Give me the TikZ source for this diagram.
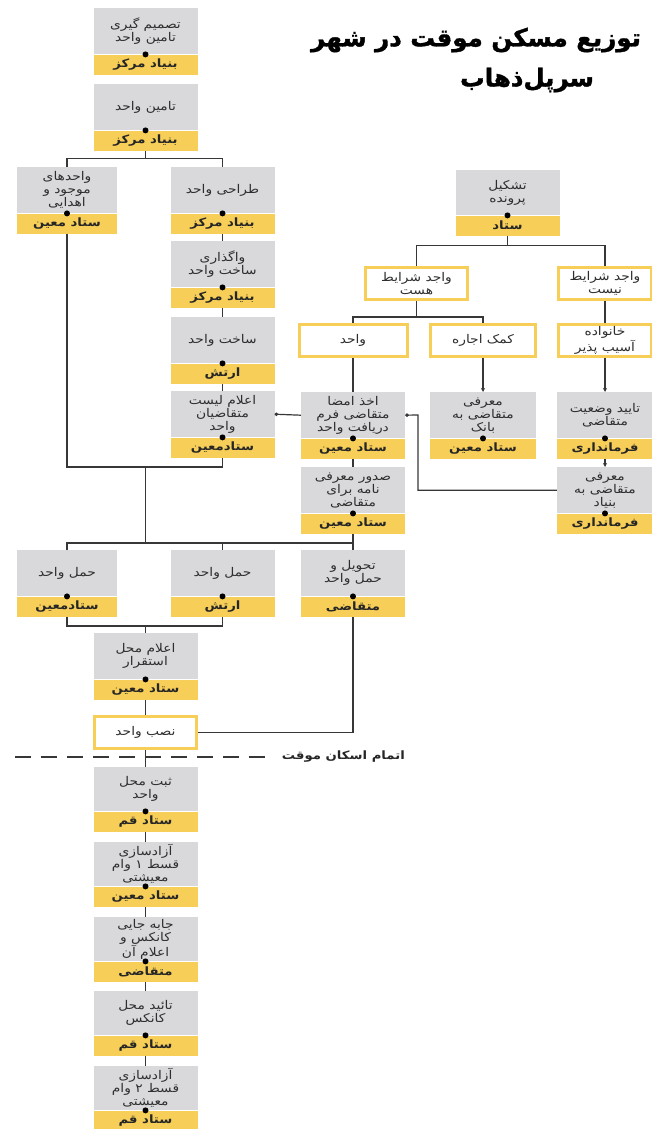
\documentclass[tikz,border=0pt]{standalone}
\usepackage{fontspec}
\usepackage{tikz}
\usetikzlibrary{positioning,arrows.meta}
\TeXXeTstate=1
\newfontfamily\arabicfont[Script=Arabic]{DejaVu Sans}
\newfontfamily\titlefont[Script=Arabic, FakeBold=1.5]{DejaVu Sans}
\newfontfamily\boxfont[Script=Arabic, FakeStretch=1.15]{DejaVu Sans}
\definecolor{boxgray}{RGB}{217,217,219}
\definecolor{boxyellow}{RGB}{246,206,88}
\definecolor{linegray}{RGB}{55,55,55}
\newcommand\fa[1]{\beginR #1\endR}

\begin{document}
\begin{tikzpicture}[x=1pt, y=-1pt,
    task/.style={fill=boxgray, minimum width=104pt, minimum height=46pt, inner sep=1pt,
      align=center, text=black!82, font=\boxfont\fontsize{12}{13}\selectfont},
    owner/.style={fill=boxyellow, minimum width=104pt, minimum height=20pt, inner sep=1pt,
      text=black!85, font=\boxfont\bfseries\fontsize{11.5}{12}\selectfont},
    choice/.style={draw=boxyellow, line width=3pt, fill=white, minimum width=102pt,
      minimum height=32pt, inner sep=1pt, align=center, text=black!82,
      font=\boxfont\fontsize{12}{13}\selectfont},
    link/.style={draw=linegray, line width=1.2pt},
    tip/.style={-{Stealth[length=4pt,width=4pt]}},
    dottip/.style={-{Circle[length=3.5pt]}}]
  \useasboundingbox (0,0) rectangle (651,1129);

  % title
  \node[font=\titlefont\bfseries\fontsize{24.5}{30}\selectfont] (title1) at (476,40) {\fa{توزیع مسکن موقت در شهر}};
  \node[font=\titlefont\bfseries\fontsize{24.5}{30}\selectfont] (title2) at (527,80) {\fa{سرپل‌ذهاب}};

  % left branch: supply of units
  \node[task, anchor=north] (decide) at (145.5,8) {\fa{تصمیم گیری}\\\fa{تامین واحد}};
  \node[owner, below=0pt of decide] (decideby) {\fa{بنیاد مرکز}};
  \node[task, anchor=north] (supply) at (145.5,84) {\fa{تامین واحد}};
  \node[owner, below=0pt of supply] (supplyby) {\fa{بنیاد مرکز}};
  \node[task, anchor=north, minimum width=100pt] (existing) at (67,167) {\fa{واحدهای}\\\fa{موجود و}\\\fa{اهدایی}};
  \node[owner, below=0pt of existing, minimum width=100pt] (existingby) {\fa{ستاد معین}};
  \node[task, anchor=north] (design) at (222.5,167) {\fa{طراحی واحد}};
  \node[owner, below=0pt of design] (designby) {\fa{بنیاد مرکز}};
  \node[task, anchor=north] (assign) at (222.5,241) {\fa{واگذاری}\\\fa{ساخت واحد}};
  \node[owner, below=0pt of assign] (assignby) {\fa{بنیاد مرکز}};
  \node[task, anchor=north] (build) at (222.5,317) {\fa{ساخت واحد}};
  \node[owner, below=0pt of build] (buildby) {\fa{ارتش}};
  \node[task, anchor=north] (announce) at (222.5,391) {\fa{اعلام لیست}\\\fa{متقاضیان}\\\fa{واحد}};
  \node[owner, below=0pt of announce] (announceby) {\fa{ستادمعین}};

  % right branch: applicants
  \node[task, anchor=north, minimum height=45pt] (file) at (507.5,170) {\fa{تشکیل}\\\fa{پرونده}};
  \node[owner, below=0pt of file] (fileby) {\fa{ستاد}};
  \node[choice] (eligible) at (416.5,283.5) {\fa{واجد شرایط}\\\fa{هست}};
  \node[choice, minimum width=93pt] (ineligible) at (605,283.5) {\fa{واجد شرایط}\\\fa{نیست}};
  \node[choice, minimum width=108pt] (unit) at (353,340.5) {\fa{واحد}};
  \node[choice, minimum width=105pt] (rent) at (483,340.5) {\fa{کمک اجاره}};
  \node[choice, minimum width=93pt] (vulnerable) at (605,340.5) {\fa{خانواده}\\\fa{آسیب پذیر}};
  \node[task, anchor=north] (sign) at (353,392) {\fa{اخذ امضا}\\\fa{متقاضی فرم}\\\fa{دریافت واحد}};
  \node[owner, below=0pt of sign] (signby) {\fa{ستاد معین}};
  \node[task, anchor=north, minimum width=106pt] (bank) at (483,392) {\fa{معرفی}\\\fa{متقاضی به}\\\fa{بانک}};
  \node[owner, below=0pt of bank, minimum width=106pt] (bankby) {\fa{ستاد معین}};
  \node[task, anchor=north, minimum width=96pt] (verify) at (605,392) {\fa{تایید وضعیت}\\\fa{متقاضی}};
  \node[owner, below=0pt of verify, minimum width=96pt] (verifyby) {\fa{فرمانداری}};
  \node[task, anchor=north] (letter) at (353,467) {\fa{صدور معرفی}\\\fa{نامه برای}\\\fa{متقاضی}};
  \node[owner, below=0pt of letter] (letterby) {\fa{ستاد معین}};
  \node[task, anchor=north, minimum width=96pt] (intro) at (605,467) {\fa{معرفی}\\\fa{متقاضی به}\\\fa{بنیاد}};
  \node[owner, below=0pt of intro, minimum width=96pt] (introby) {\fa{فرمانداری}};

  % carrying the units
  \node[task, anchor=north, minimum width=100pt] (carryA) at (67,550) {\fa{حمل واحد}};
  \node[owner, below=0pt of carryA, minimum width=100pt] (carryAby) {\fa{ستادمعین}};
  \node[task, anchor=north] (carryB) at (222.5,550) {\fa{حمل واحد}};
  \node[owner, below=0pt of carryB] (carryBby) {\fa{ارتش}};
  \node[task, anchor=north] (deliver) at (353,550) {\fa{تحویل و}\\\fa{حمل واحد}};
  \node[owner, below=0pt of deliver] (deliverby) {\fa{متقاضی}};
  \node[task, anchor=north] (place) at (145.5,633) {\fa{اعلام محل}\\\fa{استقرار}};
  \node[owner, below=0pt of place] (placeby) {\fa{ستاد معین}};
  \node[choice] (install) at (145.5,732.5) {\fa{نصب واحد}};

  % after temporary housing
  \node[anchor=east, inner sep=1pt, text=black!85, font=\boxfont\bfseries\fontsize{11.5}{12}\selectfont] (endtxt) at (406,757) {\fa{اتمام اسکان موقت}};
  \node[task, anchor=north, minimum height=44pt] (register) at (145.5,767) {\fa{ثبت محل}\\\fa{واحد}};
  \node[owner, below=0pt of register] (registerby) {\fa{ستاد قم}};
  \node[task, anchor=north, minimum height=44pt] (loanA) at (145.5,842) {\fa{آزادسازی}\\\fa{قسط ۱ وام}\\\fa{معیشتی}};
  \node[owner, below=0pt of loanA] (loanAby) {\fa{ستاد معین}};
  \node[task, anchor=north, minimum height=44pt] (move) at (145.5,917) {\fa{جابه جایی}\\\fa{کانکس و}\\\fa{اعلام آن}};
  \node[owner, below=0pt of move] (moveby) {\fa{متقاضی}};
  \node[task, anchor=north, minimum height=44pt] (approve) at (145.5,991) {\fa{تائید محل}\\\fa{کانکس}};
  \node[owner, below=0pt of approve] (approveby) {\fa{ستاد قم}};
  \node[task, anchor=north, minimum height=44pt] (loanB) at (145.5,1066) {\fa{آزادسازی}\\\fa{قسط ۲ وام}\\\fa{معیشتی}};
  \node[owner, below=0pt of loanB] (loanBby) {\fa{ستاد قم}};

  % dots between task and owner
  \foreach \n in {decide,supply,existing,design,assign,build,announce,file,sign,bank,verify,
      letter,intro,carryA,carryB,deliver,place,register,loanA,move,approve,loanB}
    \fill (\n.south) circle (3pt);

  % joints
  \coordinate (join1) at (145.5,467);
  \coordinate (join2) at (145.5,543);
  \coordinate (join3) at (145.5,626);
  \coordinate (turn) at (418,415);
  \coordinate (cutL) at (15,757);

  % connectors
  \draw[link] (supplyby.south) -- ++(0,8) -| (existing.north);
  \draw[link] (supplyby.south) ++(0,8) -| (design.north);
  \draw[link] (designby.south) -- (assign.north);
  \draw[link] (assignby.south) -- (build.north);
  \draw[link] (buildby.south) -- (announce.north);
  \draw[link] (existingby.south) |- (join1) -| (announceby.south);
  \draw[link] (join1) -- (join2);
  \draw[link] (fileby.south) -- ++(0,10) -| (eligible.north);
  \draw[link] (fileby.south) ++(0,10) -| (ineligible.north);
  \draw[link] (eligible.south) -- ++(0,16) -| (unit.north);
  \draw[link] (eligible.south) ++(0,16) -| (rent.north);
  \draw[link] (ineligible.south) -- (vulnerable.north);
  \draw[link] (unit.south) -- (sign.north);
  \draw[link, tip] (rent.south) -- (bank.north);
  \draw[link, tip] (vulnerable.south) -- (verify.north);
  \draw[link, tip] (verifyby.south) -- (intro.north);
  \draw[link, dottip] (intro.west) -| (turn) -- (sign.east);
  \draw[link, dottip] (sign.west) -- (announce.east);
  \draw[link] (signby.south) -- (letter.north);
  \draw[link] (letterby.south) -- (deliver.north);
  \draw[link] (carryA.north) |- (join2) -| (deliver.north);
  \draw[link] (join2) -| (carryB.north);
  \draw[link] (carryAby.south) |- (join3) -| (carryBby.south);
  \draw[link] (join3) -- (place.north);
  \draw[link] (placeby.south) -- (install.north);
  \draw[link] (deliverby.south) |- (install.east);
  \draw[link] (install.south) -- (register.north);
  \draw[link, dash pattern=on 16pt off 10pt] (cutL) -- ([xshift=-10pt]endtxt.west);
  \draw[link] (registerby.south) -- (loanA.north);
  \draw[link] (loanAby.south) -- (move.north);
  \draw[link] (moveby.south) -- (approve.north);
  \draw[link] (approveby.south) -- (loanB.north);
\end{tikzpicture}
\end{document}
